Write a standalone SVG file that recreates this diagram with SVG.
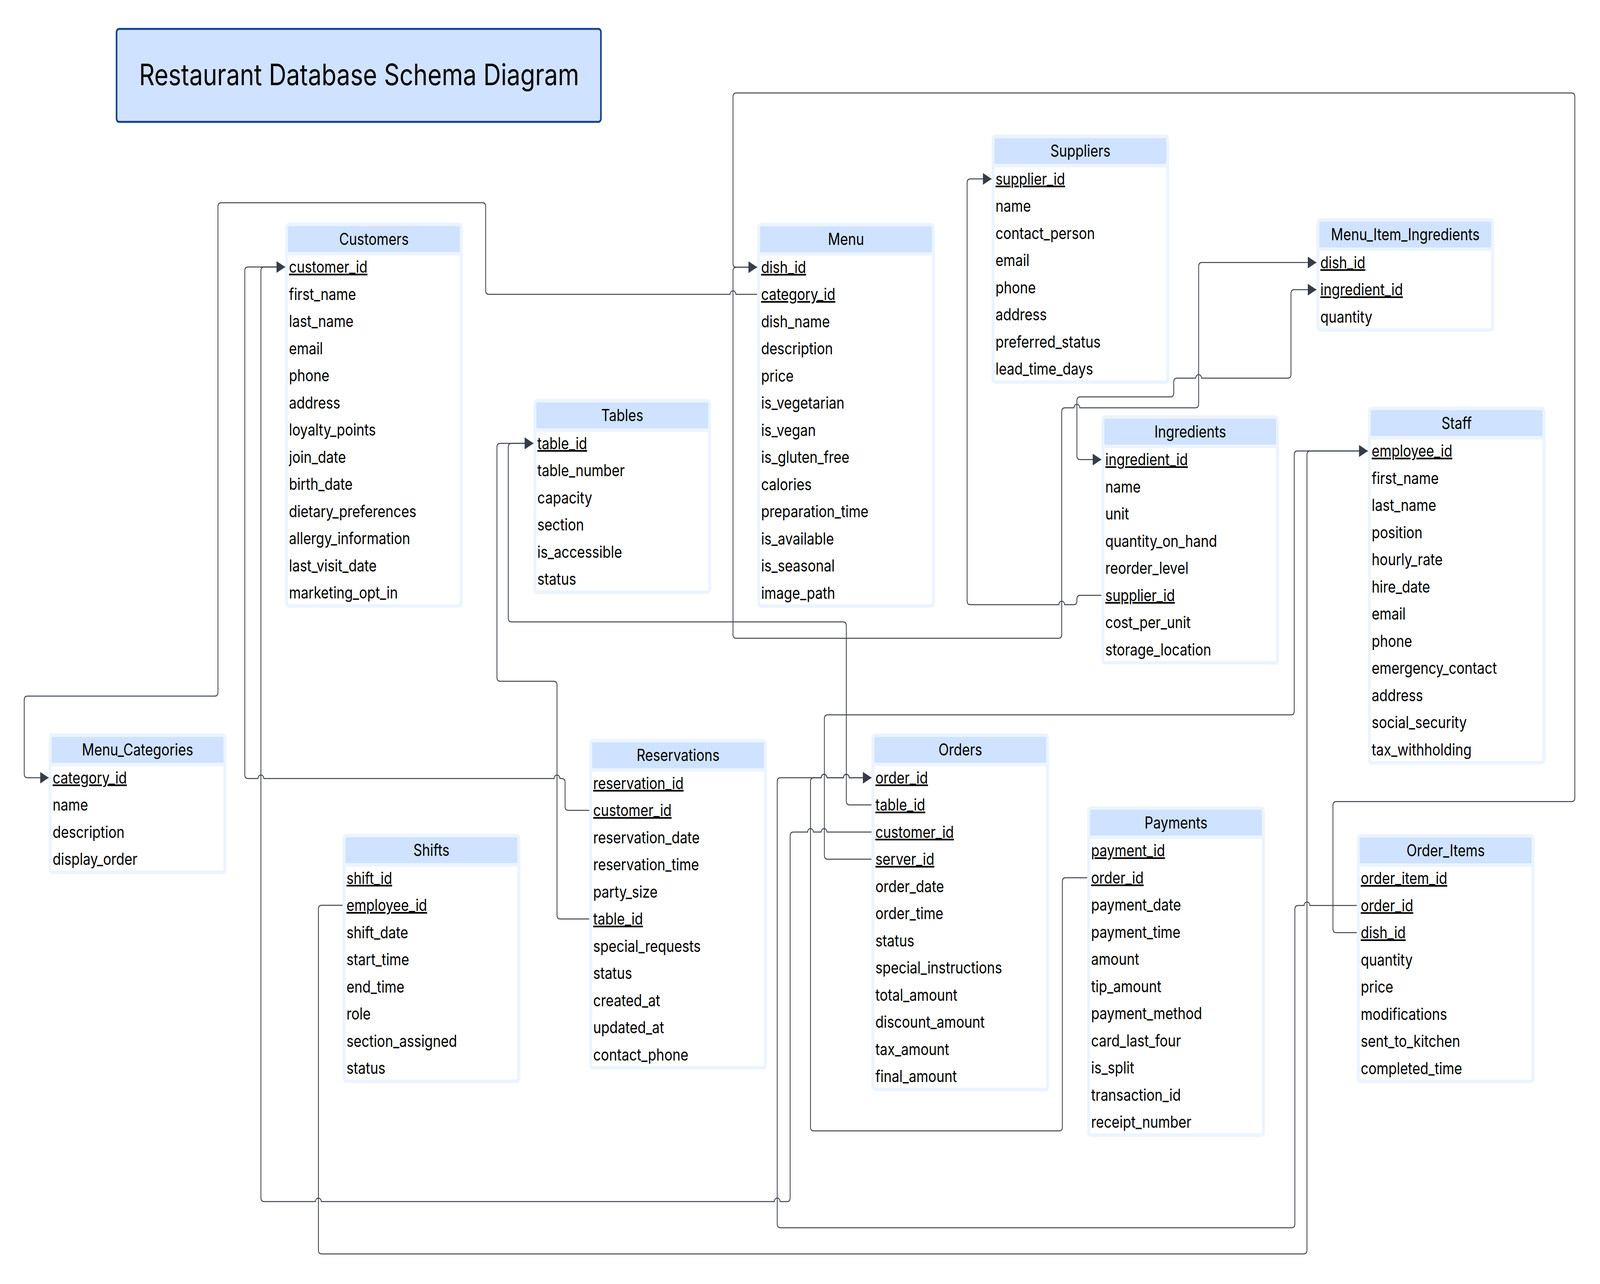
<svg xmlns="http://www.w3.org/2000/svg" width="4955" height="3287" viewBox="0 0 4955 3287" preserveAspectRatio="none">
<style>
svg{width:100vw;height:100vh}
.box{fill:#ebf4ff}
.hdr{fill:#cfe2ff}
.bd{fill:#ffffff}
text{font-family:Inter,'Liberation Sans',sans-serif;font-size:42px;fill:#000}
.h{text-anchor:middle}
.k{text-decoration:underline;text-decoration-thickness:3px;text-underline-offset:9px}
.e{fill:none;stroke:#3b414d;stroke-width:2.5}
</style>
<defs>
<marker id="arr" markerUnits="userSpaceOnUse" markerWidth="28" markerHeight="30" refX="27" refY="15" orient="auto-start-reverse">
<path d="M0,0 L27,15 L0,30 z" fill="#363c48"/>
</marker>
</defs>
<rect width="4955" height="3287" fill="#ffffff"/>

<g id="title">
<rect x="361" y="74" width="1500" height="238" rx="8" fill="#cfe2ff" stroke="#12408a" stroke-width="5"/>
<text x="1112" y="218" class="h" style="font-size:75px">Restaurant Database Schema Diagram</text>
</g>

<g id="connectors">
<path class="e" marker-end="url(#arr)" d="M 2345 753.5 L 2279 753.5 A 9 9 0 0 0 2261 753.5 L 1514 753.5 Q 1504 753.5 1504 743.5 L 1504 529 Q 1504 519 1494 519 L 685 519 Q 675 519 675 529 L 675 1772 Q 675 1782 665 1782 L 85 1782 Q 75 1782 75 1792 L 75 1981 Q 75 1991 85 1991 L 151 1991"/>
<path class="e" marker-end="url(#arr)" d="M 4202 2387.5 L 4138 2387.5 Q 4128 2387.5 4128 2377.5 L 4128 2062 Q 4128 2052 4138 2052 L 4867 2052 Q 4877 2052 4877 2042 L 4877 248 Q 4877 238 4867 238 L 2280 238 Q 2270 238 2270 248 L 2270 674 Q 2270 684 2280 684 L 2345 684"/>
<path class="e" marker-end="url(#arr)" d="M 2345 684 L 2280 684 Q 2270 684 2270 694 L 2270 1624 Q 2270 1634 2280 1634 L 3278 1634 Q 3288 1634 3288 1624 L 3288 1054 Q 3288 1044 3298 1044 L 3326 1044 A 9 9 0 0 1 3344 1044 L 3702 1044 Q 3712 1044 3712 1034 L 3712 682 Q 3712 672 3722 672 L 4077 672"/>
<path class="e" marker-start="url(#arr)" marker-end="url(#arr)" d="M 4077 741.5 L 4008 741.5 Q 3998 741.5 3998 751.5 L 3998 958 Q 3998 968 3988 968 L 3721 968 A 9 9 0 0 0 3703 968 L 3645 968 Q 3635 968 3635 978 L 3635 1006 Q 3635 1016 3625 1016 L 3345 1016 Q 3335 1016 3335 1026 L 3335 1166.5 Q 3335 1176.5 3345 1176.5 L 3411 1176.5"/>
<path class="e" marker-end="url(#arr)" d="M 3411 1524 L 3345 1524 Q 3335 1524 3335 1534 L 3335 1538 Q 3335 1548 3325 1548 L 3297 1548 A 9 9 0 0 0 3279 1548 L 3005 1548 Q 2995 1548 2995 1538 L 2995 468 Q 2995 458 3005 458 L 3071 458"/>
<path class="e" marker-end="url(#arr)" d="M 1825 2074.5 L 1760 2074.5 Q 1750 2074.5 1750 2064.5 L 1750 2003 Q 1750 1993 1740 1993 L 1734 1993 A 9 9 0 0 0 1716 1993 L 817 1993 A 9 9 0 0 0 799 1993 L 768 1993 Q 758 1993 758 1983 L 758 693.5 Q 758 683.5 768 683.5 L 883 683.5"/>
<path class="e" marker-end="url(#arr)" d="M 2699 2130 L 2561 2130 A 9 9 0 0 0 2543 2130 L 2519 2130 A 9 9 0 0 0 2501 2130 L 2457 2130 Q 2447 2130 2447 2140 L 2447 3066 Q 2447 3076 2437 3076 L 2416 3076 A 9 9 0 0 0 2398 3076 L 995 3076 A 9 9 0 0 0 977 3076 L 818 3076 Q 808 3076 808 3066 L 808 693.5 Q 808 683.5 818 683.5 L 883 683.5"/>
<path class="e" marker-end="url(#arr)" d="M 1825 2352.5 L 1735 2352.5 Q 1725 2352.5 1725 2342.5 L 1725 1754 Q 1725 1744 1715 1744 L 1549 1744 Q 1539 1744 1539 1734 L 1539 1145 Q 1539 1135 1549 1135 L 1652 1135"/>
<path class="e" marker-end="url(#arr)" d="M 2699 2060.5 L 2631 2060.5 Q 2621 2060.5 2621 2050.5 L 2621 1602 Q 2621 1592 2611 1592 L 1584 1592 Q 1574 1592 1574 1582 L 1574 1145 Q 1574 1135 1584 1135 L 1652 1135"/>
<path class="e" marker-end="url(#arr)" d="M 2699 2199.5 L 2563 2199.5 Q 2553 2199.5 2553 2189.5 L 2553 1840 Q 2553 1830 2563 1830 L 3998 1830 Q 4008 1830 4008 1820 L 4008 1164.5 Q 4008 1154.5 4018 1154.5 L 4236 1154.5"/>
<path class="e" marker-end="url(#arr)" d="M 1061 2317.5 L 996 2317.5 Q 986 2317.5 986 2327.5 L 986 3200 Q 986 3210 996 3210 L 4037.5 3210 Q 4047.5 3210 4047.5 3200 L 4047.5 1164.5 Q 4047.5 1154.5 4057.5 1154.5 L 4236 1154.5"/>
<path class="e" marker-end="url(#arr)" d="M 3367 2247 L 3300 2247 Q 3290 2247 3290 2257 L 3290 2885 Q 3290 2895 3280 2895 L 2520 2895 Q 2510 2895 2510 2885 L 2510 2001 Q 2510 1991 2520 1991 L 2543 1991 A 9 9 0 0 1 2561 1991 L 2612 1991 A 9 9 0 0 1 2630 1991 L 2699 1991"/>
<path class="e" marker-end="url(#arr)" d="M 4202 2318 L 4056.5 2318 A 9 9 0 0 0 4038.5 2318 L 4020 2318 Q 4010 2318 4010 2328 L 4010 3133 Q 4010 3143 4000 3143 L 2417 3143 Q 2407 3143 2407 3133 L 2407 2001 Q 2407 1991 2417 1991 L 2543 1991 A 9 9 0 0 1 2561 1991 L 2612 1991 A 9 9 0 0 1 2630 1991 L 2699 1991"/>
</g>

<g id="customers" transform="translate(883,570)">
<rect class="box" width="550" height="985.5" rx="12"/>
<rect class="hdr" x="9" y="9" width="532" height="66" rx="3"/>
<rect class="bd" x="9" y="84" width="532" height="892.5" rx="3"/>
<text x="275" y="57" class="h">Customers</text>
<text x="12" y="128.5" class="k">customer_id</text>
<text x="12" y="198">first_name</text>
<text x="12" y="267.5">last_name</text>
<text x="12" y="337">email</text>
<text x="12" y="406.5">phone</text>
<text x="12" y="476">address</text>
<text x="12" y="545.5">loyalty_points</text>
<text x="12" y="615">join_date</text>
<text x="12" y="684.5">birth_date</text>
<text x="12" y="754">dietary_preferences</text>
<text x="12" y="823.5">allergy_information</text>
<text x="12" y="893">last_visit_date</text>
<text x="12" y="962.5">marketing_opt_in</text>
</g>

<g id="menu" transform="translate(2345,570.5)">
<rect class="box" width="550" height="985.5" rx="12"/>
<rect class="hdr" x="9" y="9" width="532" height="66" rx="3"/>
<rect class="bd" x="9" y="84" width="532" height="892.5" rx="3"/>
<text x="275" y="57" class="h">Menu</text>
<text x="12" y="128.5" class="k">dish_id</text>
<text x="12" y="198" class="k">category_id</text>
<text x="12" y="267.5">dish_name</text>
<text x="12" y="337">description</text>
<text x="12" y="406.5">price</text>
<text x="12" y="476">is_vegetarian</text>
<text x="12" y="545.5">is_vegan</text>
<text x="12" y="615">is_gluten_free</text>
<text x="12" y="684.5">calories</text>
<text x="12" y="754">preparation_time</text>
<text x="12" y="823.5">is_available</text>
<text x="12" y="893">is_seasonal</text>
<text x="12" y="962.5">image_path</text>
</g>

<g id="menu_categories" transform="translate(151,1877.5)">
<rect class="box" width="550" height="360" rx="12"/>
<rect class="hdr" x="9" y="9" width="532" height="66" rx="3"/>
<rect class="bd" x="9" y="84" width="532" height="267" rx="3"/>
<text x="275" y="57" class="h">Menu_Categories</text>
<text x="12" y="128.5" class="k">category_id</text>
<text x="12" y="198">name</text>
<text x="12" y="267.5">description</text>
<text x="12" y="337">display_order</text>
</g>

<g id="tables" transform="translate(1652,1021.5)">
<rect class="box" width="550" height="499" rx="12"/>
<rect class="hdr" x="9" y="9" width="532" height="66" rx="3"/>
<rect class="bd" x="9" y="84" width="532" height="406" rx="3"/>
<text x="275" y="57" class="h">Tables</text>
<text x="12" y="128.5" class="k">table_id</text>
<text x="12" y="198">table_number</text>
<text x="12" y="267.5">capacity</text>
<text x="12" y="337">section</text>
<text x="12" y="406.5">is_accessible</text>
<text x="12" y="476">status</text>
</g>

<g id="suppliers" transform="translate(3071,344.5)">
<rect class="box" width="550" height="638" rx="12"/>
<rect class="hdr" x="9" y="9" width="532" height="66" rx="3"/>
<rect class="bd" x="9" y="84" width="532" height="545" rx="3"/>
<text x="275" y="57" class="h">Suppliers</text>
<text x="12" y="128.5" class="k">supplier_id</text>
<text x="12" y="198">name</text>
<text x="12" y="267.5">contact_person</text>
<text x="12" y="337">email</text>
<text x="12" y="406.5">phone</text>
<text x="12" y="476">address</text>
<text x="12" y="545.5">preferred_status</text>
<text x="12" y="615">lead_time_days</text>
</g>

<g id="menu_item_ingredients" transform="translate(4077,558.5)">
<rect class="box" width="550" height="290.5" rx="12"/>
<rect class="hdr" x="9" y="9" width="532" height="66" rx="3"/>
<rect class="bd" x="9" y="84" width="532" height="197.5" rx="3"/>
<text x="275" y="57" class="h">Menu_Item_Ingredients</text>
<text x="12" y="128.5" class="k">dish_id</text>
<text x="12" y="198" class="k">ingredient_id</text>
<text x="12" y="267.5">quantity</text>
</g>

<g id="ingredients" transform="translate(3411,1063)">
<rect class="box" width="550" height="638" rx="12"/>
<rect class="hdr" x="9" y="9" width="532" height="66" rx="3"/>
<rect class="bd" x="9" y="84" width="532" height="545" rx="3"/>
<text x="275" y="57" class="h">Ingredients</text>
<text x="12" y="128.5" class="k">ingredient_id</text>
<text x="12" y="198">name</text>
<text x="12" y="267.5">unit</text>
<text x="12" y="337">quantity_on_hand</text>
<text x="12" y="406.5">reorder_level</text>
<text x="12" y="476" class="k">supplier_id</text>
<text x="12" y="545.5">cost_per_unit</text>
<text x="12" y="615">storage_location</text>
</g>

<g id="staff" transform="translate(4236,1041)">
<rect class="box" width="550" height="916" rx="12"/>
<rect class="hdr" x="9" y="9" width="532" height="66" rx="3"/>
<rect class="bd" x="9" y="84" width="532" height="823" rx="3"/>
<text x="275" y="57" class="h">Staff</text>
<text x="12" y="128.5" class="k">employee_id</text>
<text x="12" y="198">first_name</text>
<text x="12" y="267.5">last_name</text>
<text x="12" y="337">position</text>
<text x="12" y="406.5">hourly_rate</text>
<text x="12" y="476">hire_date</text>
<text x="12" y="545.5">email</text>
<text x="12" y="615">phone</text>
<text x="12" y="684.5">emergency_contact</text>
<text x="12" y="754">address</text>
<text x="12" y="823.5">social_security</text>
<text x="12" y="893">tax_withholding</text>
</g>

<g id="orders" transform="translate(2699,1877.5)">
<rect class="box" width="550" height="916" rx="12"/>
<rect class="hdr" x="9" y="9" width="532" height="66" rx="3"/>
<rect class="bd" x="9" y="84" width="532" height="823" rx="3"/>
<text x="275" y="57" class="h">Orders</text>
<text x="12" y="128.5" class="k">order_id</text>
<text x="12" y="198" class="k">table_id</text>
<text x="12" y="267.5" class="k">customer_id</text>
<text x="12" y="337" class="k">server_id</text>
<text x="12" y="406.5">order_date</text>
<text x="12" y="476">order_time</text>
<text x="12" y="545.5">status</text>
<text x="12" y="615">special_instructions</text>
<text x="12" y="684.5">total_amount</text>
<text x="12" y="754">discount_amount</text>
<text x="12" y="823.5">tax_amount</text>
<text x="12" y="893">final_amount</text>
</g>

<g id="reservations" transform="translate(1825,1891.5)">
<rect class="box" width="550" height="846.5" rx="12"/>
<rect class="hdr" x="9" y="9" width="532" height="66" rx="3"/>
<rect class="bd" x="9" y="84" width="532" height="753.5" rx="3"/>
<text x="275" y="57" class="h">Reservations</text>
<text x="12" y="128.5" class="k">reservation_id</text>
<text x="12" y="198" class="k">customer_id</text>
<text x="12" y="267.5">reservation_date</text>
<text x="12" y="337">reservation_time</text>
<text x="12" y="406.5">party_size</text>
<text x="12" y="476" class="k">table_id</text>
<text x="12" y="545.5">special_requests</text>
<text x="12" y="615">status</text>
<text x="12" y="684.5">created_at</text>
<text x="12" y="754">updated_at</text>
<text x="12" y="823.5">contact_phone</text>
</g>

<g id="shifts" transform="translate(1061,2134.5)">
<rect class="box" width="550" height="638" rx="12"/>
<rect class="hdr" x="9" y="9" width="532" height="66" rx="3"/>
<rect class="bd" x="9" y="84" width="532" height="545" rx="3"/>
<text x="275" y="57" class="h">Shifts</text>
<text x="12" y="128.5" class="k">shift_id</text>
<text x="12" y="198" class="k">employee_id</text>
<text x="12" y="267.5">shift_date</text>
<text x="12" y="337">start_time</text>
<text x="12" y="406.5">end_time</text>
<text x="12" y="476">role</text>
<text x="12" y="545.5">section_assigned</text>
<text x="12" y="615">status</text>
</g>

<g id="payments" transform="translate(3367,2064)">
<rect class="box" width="550" height="846.5" rx="12"/>
<rect class="hdr" x="9" y="9" width="532" height="66" rx="3"/>
<rect class="bd" x="9" y="84" width="532" height="753.5" rx="3"/>
<text x="275" y="57" class="h">Payments</text>
<text x="12" y="128.5" class="k">payment_id</text>
<text x="12" y="198" class="k">order_id</text>
<text x="12" y="267.5">payment_date</text>
<text x="12" y="337">payment_time</text>
<text x="12" y="406.5">amount</text>
<text x="12" y="476">tip_amount</text>
<text x="12" y="545.5">payment_method</text>
<text x="12" y="615">card_last_four</text>
<text x="12" y="684.5">is_split</text>
<text x="12" y="754">transaction_id</text>
<text x="12" y="823.5">receipt_number</text>
</g>

<g id="order_items" transform="translate(4202,2135)">
<rect class="box" width="550" height="638" rx="12"/>
<rect class="hdr" x="9" y="9" width="532" height="66" rx="3"/>
<rect class="bd" x="9" y="84" width="532" height="545" rx="3"/>
<text x="275" y="57" class="h">Order_Items</text>
<text x="12" y="128.5" class="k">order_item_id</text>
<text x="12" y="198" class="k">order_id</text>
<text x="12" y="267.5" class="k">dish_id</text>
<text x="12" y="337">quantity</text>
<text x="12" y="406.5">price</text>
<text x="12" y="476">modifications</text>
<text x="12" y="545.5">sent_to_kitchen</text>
<text x="12" y="615">completed_time</text>
</g>
</svg>
